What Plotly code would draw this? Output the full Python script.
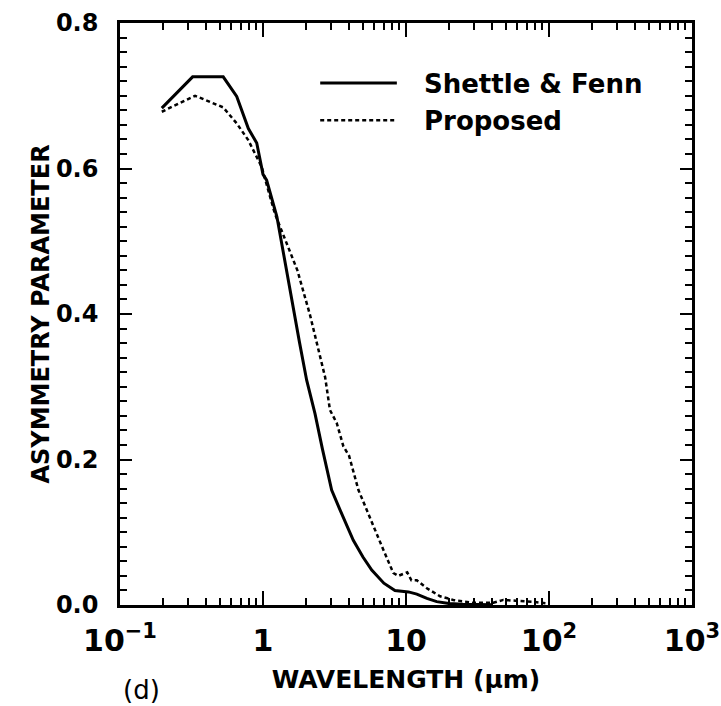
import plotly.graph_objects as go

# Shettle & Fenn (solid)
sf_wl = [0.196, 0.322, 0.527, 0.655, 0.79, 0.904, 1.0, 1.06, 1.25, 1.5, 1.63, 1.8, 2.02, 2.31, 2.6, 3.02, 3.45, 4.28, 5.0, 5.76, 7.0, 8.37, 10.4, 11.9, 14.0, 16.4, 20.0, 25.0, 40.0]
sf_g = [0.683, 0.726, 0.726, 0.699, 0.655, 0.635, 0.592, 0.584, 0.534, 0.447, 0.405, 0.361, 0.309, 0.263, 0.215, 0.158, 0.131, 0.089, 0.066, 0.048, 0.030, 0.020, 0.018, 0.015, 0.009, 0.0046, 0.002, 0.001, 0.0005]

# Proposed (dashed)
pr_wl = [0.196, 0.335, 0.527, 0.655, 0.789, 0.98, 1.21, 1.39, 1.74, 2.13, 2.72, 2.94, 3.28, 3.65, 4.0, 4.65, 5.2, 5.76, 6.94, 8.15, 8.83, 10.2, 10.9, 11.9, 14.0, 17.3, 21.4, 29.6, 40.8, 47.9, 59.0, 80.0, 100.0]
pr_g = [0.678, 0.700, 0.684, 0.662, 0.639, 0.602, 0.538, 0.509, 0.460, 0.399, 0.313, 0.268, 0.250, 0.218, 0.205, 0.158, 0.135, 0.112, 0.076, 0.044, 0.040, 0.045, 0.034, 0.034, 0.023, 0.012, 0.007, 0.003, 0.003, 0.007, 0.006, 0.004, 0.002]

legend_names = ["Shettle & Fenn", "Proposed"]
x_title = "WAVELENGTH (µm)"
y_title = "ASYMMETRY PARAMETER"
panel_label = "(d)"

FONT = "DejaVu Sans"

fig = go.Figure()
fig.add_trace(go.Scatter(x=sf_wl, y=sf_g, mode="lines", name=legend_names[0],
                         line=dict(color="black", width=3), showlegend=False))
# drawn on the mirrored (top/right) axes, which share the exact same ranges
fig.add_trace(go.Scatter(x=pr_wl, y=pr_g, mode="lines", name=legend_names[1],
                         xaxis="x2", yaxis="y2",
                         line=dict(color="black", width=2.5, dash="4px,3px"), showlegend=False))

fig.update_layout(
    width=721, height=706,
    margin=dict(l=120, r=29, t=23, b=101),
    paper_bgcolor="white", plot_bgcolor="white",
    font=dict(family=FONT, color="black", size=24, weight="bold"),
)

xminor = dict(dtick="D1", ticks="inside", ticklen=7, tickwidth=2, tickcolor="black", showgrid=False)
yminor = dict(dtick=0.02, tick0=0, ticks="inside", ticklen=7, tickwidth=2, tickcolor="black", showgrid=False)

fig.update_layout(
    xaxis=dict(
        type="log", range=[-1, 3], tickmode="linear", tick0=0, dtick=1,
        exponentformat="power", minexponent=2,
        ticks="inside", ticklen=14, tickwidth=2, tickcolor="black",
        showline=True, linewidth=2.5, linecolor="black", mirror=True,
        showgrid=False, zeroline=False, ticklabelstandoff=8,
        tickfont=dict(family=FONT, size=24, weight="bold"),
        minor=xminor,
        title=dict(text=x_title, font=dict(family=FONT, size=25, weight="bold"), standoff=14),
        automargin=False,
    ),
    xaxis2=dict(
        type="log", range=[-1, 3], tickmode="linear", tick0=0, dtick=1,
        overlaying="x", side="top", showticklabels=False,
        ticks="inside", ticklen=14, tickwidth=2, tickcolor="black",
        showline=False, showgrid=False, zeroline=False, minor=xminor, automargin=False,
    ),
    yaxis=dict(
        range=[0, 0.8], tickmode="linear", tick0=0, dtick=0.2, tickformat=".1f",
        ticks="inside", ticklen=12, tickwidth=2, tickcolor="black",
        showline=True, linewidth=2.5, linecolor="black", mirror=True,
        showgrid=False, zeroline=False, ticklabelstandoff=14,
        tickfont=dict(family=FONT, size=24, weight="bold"),
        minor=yminor,
        title=dict(text=y_title, font=dict(family=FONT, size=24, weight="bold"), standoff=0),
        automargin=False,
    ),
    yaxis2=dict(
        range=[0, 0.8], tickmode="linear", tick0=0, dtick=0.2,
        overlaying="y", side="right", showticklabels=False,
        ticks="inside", ticklen=12, tickwidth=2, tickcolor="black",
        showline=False, showgrid=False, zeroline=False, minor=yminor, automargin=False,
    ),
)

# Manual legend
fig.add_shape(type="line", xref="paper", yref="paper", x0=0.35, x1=0.484, y0=0.897, y1=0.897,
              line=dict(color="black", width=3))
fig.add_shape(type="line", xref="paper", yref="paper", x0=0.35, x1=0.484, y0=0.833, y1=0.833,
              line=dict(color="black", width=2.5, dash="4px,3px"))
fig.add_annotation(xref="paper", yref="paper", x=0.528, y=0.895, text=legend_names[0],
                   showarrow=False, xanchor="left", yanchor="middle",
                   font=dict(family=FONT, size=26, weight="bold"))
fig.add_annotation(xref="paper", yref="paper", x=0.528, y=0.832, text=legend_names[1],
                   showarrow=False, xanchor="left", yanchor="middle",
                   font=dict(family=FONT, size=26, weight="bold"))
fig.add_annotation(xref="paper", yref="paper", x=0.038, y=-0.146, text=panel_label,
                   showarrow=False, xanchor="center", yanchor="middle",
                   font=dict(family=FONT, size=26, weight="normal"))

fig.write_html("out.html")
